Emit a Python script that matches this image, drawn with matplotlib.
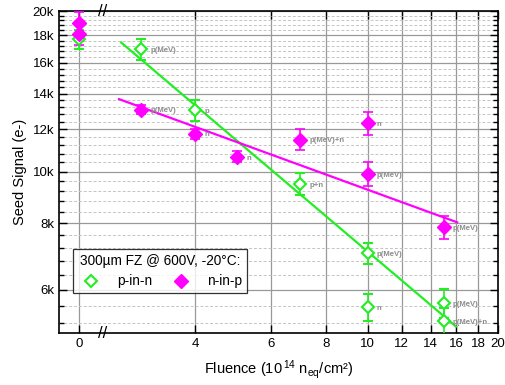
import numpy as np
import matplotlib
matplotlib.use('Agg')
import matplotlib.pyplot as plt
from matplotlib.lines import Line2D
from matplotlib.ticker import FixedLocator, NullFormatter, NullLocator

plt.rcParams.update({
    'font.family': ['Liberation Sans', 'DejaVu Sans'],
    'font.size': 9.5,
    'mathtext.default': 'regular',
    'xtick.direction': 'in', 'ytick.direction': 'in',
})

# ── data ────────────────────────────────────────────────────────────────
ZERO_POS = 2.16      # where fluence 0 sits on the broken log axis
BREAK_X = 2.45

pin_x = [0, 3, 4, 7, 10, 10, 15, 15]
pin_y = [17700, 16960, 13020, 9480, 7035, 5565, 5660, 5240]
pin_err = [700, 800, 600, 450, 320, 320, 350, 300]
pin_lab = ['', 'p(MeV)', 'p', 'p+n', 'p(MeV)', 'n', 'p(MeV)', 'p(MeV)+n']

nip_x = [0, 0, 3, 4, 5, 7, 10, 10, 15]
nip_y = [19000, 18080, 13070, 11780, 10660, 11480, 12310, 9900, 7870]
nip_err = [900, 800, 250, 250, 250, 520, 600, 500, 390]
nip_lab = ['', '', 'p(MeV)', 'n', 'n', 'p(MeV)+n', 'n', 'p(MeV)', 'p(MeV)']

# power-law fits  y = A * x^b  over a fluence range
pin_fit = dict(A=34600, b=-0.689, lo=2.7, hi=16.0)
nip_fit = dict(A=18280, b=-0.296, lo=2.67, hi=16.1)

xticks = [0, 4, 6, 8, 10, 12, 14, 16, 18, 20]
GREEN = '#22ee22'
MAGENTA = '#ff00ff'

fig = plt.figure(figsize=(5.05, 3.85), dpi=100)
ax = fig.add_axes([59/505, 52/385, 439/505, 322/385])
ax.set_xscale('log')
ax.set_yscale('log')
ax.set_xlim(1.94, 20)
ax.set_ylim(4980, 20000)


def pos(x):
    return [ZERO_POS if v == 0 else v for v in x]


# grid
ax.xaxis.set_major_locator(FixedLocator(pos(xticks)))
ax.set_xticklabels([str(t) for t in xticks])
ax.xaxis.set_minor_locator(NullLocator())
ax.yaxis.set_major_locator(FixedLocator(np.arange(6000, 20001, 2000)))
ax.yaxis.set_major_formatter(plt.FuncFormatter(lambda v, p: f'{v/1000:.0f}k'))
ax.yaxis.set_minor_locator(FixedLocator(np.arange(5200, 20000, 400)))
ax.yaxis.set_minor_formatter(NullFormatter())
ax.grid(which='major', color='#999999', lw=0.9)
ax.grid(which='minor', axis='y', color='#c4c4c4', lw=0.7, ls=(0, (3, 2)))
ax.set_axisbelow(True)
ax.tick_params(which='both', top=True, right=True, width=1.0)
ax.tick_params(which='major', length=6)
ax.tick_params(which='minor', length=3.5)
for s in ax.spines.values():
    s.set_linewidth(1.2)

# fits
for f, c in [(pin_fit, GREEN), (nip_fit, MAGENTA)]:
    xs = np.geomspace(f['lo'], f['hi'], 50)
    ax.plot(xs, f['A'] * xs ** f['b'], color=c, lw=1.6, zorder=3)

# data
ax.errorbar(pos(pin_x), pin_y, yerr=pin_err, fmt='D', ms=6.5, mfc='white',
            mec=GREEN, mew=1.5, ecolor=GREEN, elinewidth=1.2, capsize=3.5,
            capthick=1.2, zorder=5)
ax.errorbar(pos(nip_x), nip_y, yerr=nip_err, fmt='D', ms=7, mfc=MAGENTA,
            mec=MAGENTA, ecolor=MAGENTA, elinewidth=1.2, capsize=3.5,
            capthick=1.2, zorder=5)

for xs, ys, labs in [(pin_x, pin_y, pin_lab), (nip_x, nip_y, nip_lab)]:
    for x, y, l in zip(pos(xs), ys, labs):
        if l:
            ax.annotate(l, (x, y), textcoords='offset points', xytext=(6.5, -1),
                        ha='left', va='center', fontsize=5.6,
                        fontweight='bold', color='#8c8c8c', zorder=6)

# axis break marks
for yy in (0, 1):
    ax.annotate('//', (BREAK_X, yy), xycoords=('data', 'axes fraction'),
                ha='center', va='center', fontsize=12, color='black',
                annotation_clip=False)

ax.set_xlabel('Fluence (10$^{\\,14}$ n$_{eq}$/cm²)', fontsize=10.5, labelpad=6)
ax.set_ylabel('Seed Signal (e-)', fontsize=10.5, labelpad=4)

handles = [
    Line2D([], [], ls='none', marker='D', ms=6.5, mfc='white', mec=GREEN, mew=1.5),
    Line2D([], [], ls='none', marker='D', ms=7, mfc=MAGENTA, mec=MAGENTA),
]
leg = ax.legend(handles, ['p-in-n', 'n-in-p'], ncol=2,
                title='300µm FZ @ 600V, -20°C:', title_fontsize=9.8,
                fontsize=9.8, loc='lower left', bbox_to_anchor=(0.032, 0.124),
                frameon=True, fancybox=False, edgecolor='black',
                borderpad=0.35, handletextpad=0.9, columnspacing=1.1,
                borderaxespad=0)
leg.get_frame().set_linewidth(0.9)

fig.savefig('out.png', dpi=100)
